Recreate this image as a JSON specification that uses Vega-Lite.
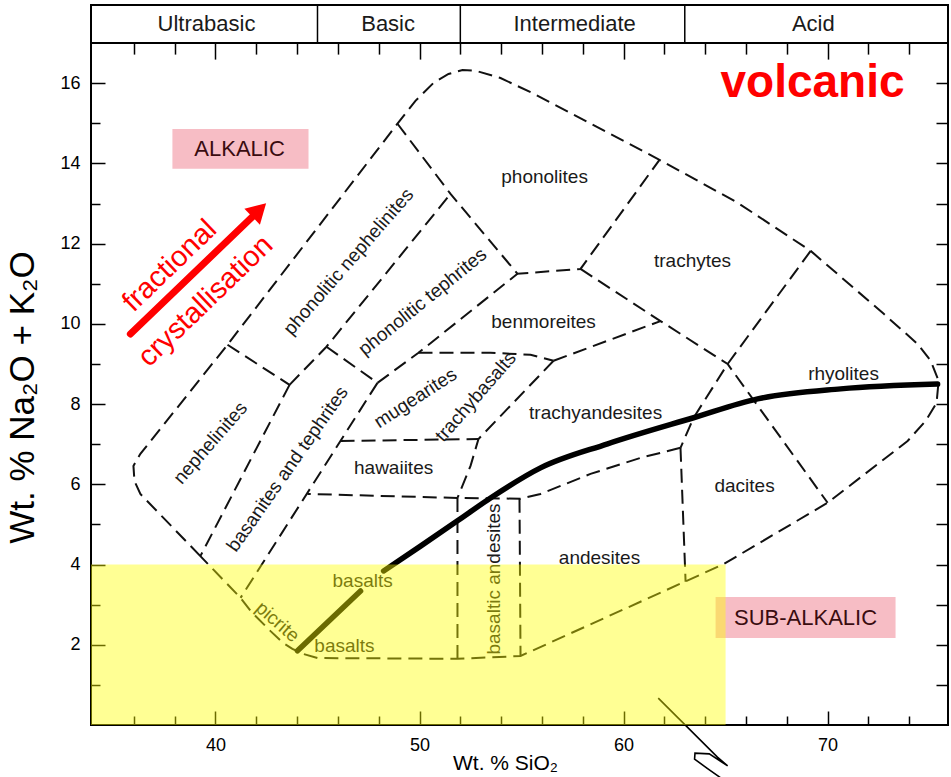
{
  "$schema": "https://vega.github.io/schema/vega-lite/v6.json",
  "width": 857,
  "height": 720,
  "padding": {"left": 5, "top": 4, "right": 0, "bottom": 0},
  "background": "white",
  "config": {
    "view": {"stroke": "black", "strokeWidth": 2},
    "font": "Liberation Sans",
    "axis": {"grid": false, "domain": false, "tickColor": "black", "tickWidth": 1.5, "labelColor": "black", "titleColor": "black", "labelFont": "Liberation Sans", "titleFont": "Liberation Sans", "titleFontWeight": "normal"}
  },
  "datasets": {
    "bounds": [
      {"seg": "env", "i": 0, "x": 39.26, "y": 4.21},
      {"seg": "env", "i": 1, "x": 36.32, "y": 5.76},
      {"seg": "env", "i": 2, "x": 36.03, "y": 6.08},
      {"seg": "env", "i": 3, "x": 35.98, "y": 6.46},
      {"seg": "env", "i": 4, "x": 36.32, "y": 6.76},
      {"seg": "env", "i": 5, "x": 40.59, "y": 9.48},
      {"seg": "env", "i": 6, "x": 48.92, "y": 14.99},
      {"seg": "env", "i": 7, "x": 49.8, "y": 15.56},
      {"seg": "env", "i": 8, "x": 50.69, "y": 16.01},
      {"seg": "env", "i": 9, "x": 51.42, "y": 16.23},
      {"seg": "env", "i": 10, "x": 52.11, "y": 16.33},
      {"seg": "env", "i": 11, "x": 52.75, "y": 16.31},
      {"seg": "env", "i": 12, "x": 53.97, "y": 16.13},
      {"seg": "env", "i": 13, "x": 55.59, "y": 15.74},
      {"seg": "env", "i": 14, "x": 61.76, "y": 14.09},
      {"seg": "env", "i": 15, "x": 65.59, "y": 13.02},
      {"seg": "env", "i": 16, "x": 69.17, "y": 11.82},
      {"seg": "env", "i": 17, "x": 72.75, "y": 10.25},
      {"seg": "env", "i": 18, "x": 74.41, "y": 9.5},
      {"seg": "env", "i": 19, "x": 75.05, "y": 9.08},
      {"seg": "env", "i": 20, "x": 75.44, "y": 8.58},
      {"seg": "env", "i": 21, "x": 75.34, "y": 8.03},
      {"seg": "env", "i": 22, "x": 74.8, "y": 7.58},
      {"seg": "env", "i": 23, "x": 73.92, "y": 7.08},
      {"seg": "env", "i": 24, "x": 70.0, "y": 5.54},
      {"seg": "env", "i": 25, "x": 64.9, "y": 4.01},
      {"seg": "env", "i": 26, "x": 54.95, "y": 1.72},
      {"seg": "env", "i": 27, "x": 51.86, "y": 1.65},
      {"seg": "env", "i": 28, "x": 45.0, "y": 1.67},
      {"seg": "env", "i": 29, "x": 44.31, "y": 1.77},
      {"seg": "env", "i": 30, "x": 43.77, "y": 1.9},
      {"seg": "env", "i": 31, "x": 43.33, "y": 2.04},
      {"seg": "env", "i": 32, "x": 42.7, "y": 2.34},
      {"seg": "env", "i": 33, "x": 41.76, "y": 2.82},
      {"seg": "env", "i": 34, "x": 41.23, "y": 3.17},
      {"seg": "env", "i": 35, "x": 39.26, "y": 4.21},
      {"seg": "s2", "i": 0, "x": 40.59, "y": 9.48},
      {"seg": "s2", "i": 1, "x": 43.63, "y": 8.48},
      {"seg": "s3", "i": 0, "x": 43.63, "y": 8.48},
      {"seg": "s3", "i": 1, "x": 39.26, "y": 4.21},
      {"seg": "s4", "i": 0, "x": 43.63, "y": 8.48},
      {"seg": "s4", "i": 1, "x": 45.44, "y": 9.43},
      {"seg": "s4", "i": 2, "x": 51.52, "y": 13.24},
      {"seg": "s5", "i": 0, "x": 48.92, "y": 14.99},
      {"seg": "s5", "i": 1, "x": 51.52, "y": 13.24},
      {"seg": "s5", "i": 2, "x": 54.8, "y": 11.25},
      {"seg": "s5", "i": 3, "x": 57.89, "y": 11.37},
      {"seg": "s5", "i": 4, "x": 61.76, "y": 14.09},
      {"seg": "s6", "i": 0, "x": 45.44, "y": 9.43},
      {"seg": "s6", "i": 1, "x": 47.94, "y": 8.53},
      {"seg": "s7", "i": 0, "x": 47.94, "y": 8.53},
      {"seg": "s7", "i": 1, "x": 41.23, "y": 3.17},
      {"seg": "s8", "i": 0, "x": 47.94, "y": 8.53},
      {"seg": "s8", "i": 1, "x": 49.95, "y": 9.28},
      {"seg": "s8", "i": 2, "x": 54.8, "y": 11.25},
      {"seg": "s9", "i": 0, "x": 49.95, "y": 9.28},
      {"seg": "s9", "i": 1, "x": 53.48, "y": 9.28},
      {"seg": "s9", "i": 2, "x": 55.44, "y": 9.23},
      {"seg": "s9", "i": 3, "x": 56.57, "y": 9.08},
      {"seg": "s10", "i": 0, "x": 56.57, "y": 9.08},
      {"seg": "s10", "i": 1, "x": 61.81, "y": 10.07},
      {"seg": "s11", "i": 0, "x": 57.89, "y": 11.37},
      {"seg": "s11", "i": 1, "x": 61.81, "y": 10.07},
      {"seg": "s11", "i": 2, "x": 65.1, "y": 9.0},
      {"seg": "s11", "i": 3, "x": 70.0, "y": 5.54},
      {"seg": "s12", "i": 0, "x": 69.17, "y": 11.82},
      {"seg": "s12", "i": 1, "x": 65.1, "y": 9.0},
      {"seg": "s12", "i": 2, "x": 63.43, "y": 7.66},
      {"seg": "s12", "i": 3, "x": 62.79, "y": 6.91},
      {"seg": "s13", "i": 0, "x": 62.79, "y": 6.91},
      {"seg": "s13", "i": 1, "x": 63.04, "y": 3.57},
      {"seg": "s14", "i": 0, "x": 62.79, "y": 6.91},
      {"seg": "s14", "i": 1, "x": 60.83, "y": 6.66},
      {"seg": "s14", "i": 2, "x": 58.38, "y": 6.26},
      {"seg": "s14", "i": 3, "x": 55.93, "y": 5.76},
      {"seg": "s14", "i": 4, "x": 54.95, "y": 5.64},
      {"seg": "s14", "i": 5, "x": 51.86, "y": 5.66},
      {"seg": "s14", "i": 6, "x": 44.51, "y": 5.76},
      {"seg": "s15", "i": 0, "x": 46.13, "y": 7.08},
      {"seg": "s15", "i": 1, "x": 52.89, "y": 7.13},
      {"seg": "s16", "i": 0, "x": 56.57, "y": 9.08},
      {"seg": "s16", "i": 1, "x": 52.89, "y": 7.13},
      {"seg": "s16", "i": 2, "x": 52.5, "y": 6.46},
      {"seg": "s16", "i": 3, "x": 51.86, "y": 5.66},
      {"seg": "s17", "i": 0, "x": 51.86, "y": 5.66},
      {"seg": "s17", "i": 1, "x": 51.86, "y": 1.65},
      {"seg": "s18", "i": 0, "x": 54.9, "y": 5.64},
      {"seg": "s18", "i": 1, "x": 54.95, "y": 1.72}
    ],
    "divide": [
      {"part": "a", "i": 0, "x": 44.02, "y": 1.85},
      {"part": "a", "i": 1, "x": 47.11, "y": 3.34},
      {"part": "b", "i": 0, "x": 48.24, "y": 3.84},
      {"part": "b", "i": 1, "x": 50.05, "y": 4.46},
      {"part": "b", "i": 2, "x": 51.86, "y": 5.09},
      {"part": "b", "i": 3, "x": 53.48, "y": 5.66},
      {"part": "b", "i": 4, "x": 55.93, "y": 6.41},
      {"part": "b", "i": 5, "x": 59.22, "y": 7.01},
      {"part": "b", "i": 6, "x": 63.43, "y": 7.66},
      {"part": "b", "i": 7, "x": 66.57, "y": 8.13},
      {"part": "b", "i": 8, "x": 70.64, "y": 8.38},
      {"part": "b", "i": 9, "x": 75.39, "y": 8.5}
    ],
    "labels": [
      {"text": "phonolites", "x": 56.13, "y": 13.67},
      {"text": "trachytes", "x": 63.38, "y": 11.57},
      {"text": "benmoreites", "x": 56.08, "y": 10.05},
      {"text": "rhyolites", "x": 70.78, "y": 8.75},
      {"text": "trachyandesites", "x": 58.63, "y": 7.78},
      {"text": "hawaiites", "x": 48.73, "y": 6.41},
      {"text": "dacites", "x": 65.93, "y": 5.96},
      {"text": "andesites", "x": 58.82, "y": 4.16},
      {"text": "basalts", "x": 47.21, "y": 3.59},
      {"text": "basalts", "x": 46.32, "y": 1.97},
      {"text": "nephelinites", "x": 39.75, "y": 7.03},
      {"text": "basanites and tephrites", "x": 43.53, "y": 6.38},
      {"text": "phonolitic nephelinites", "x": 46.52, "y": 11.55},
      {"text": "phonolitic tephrites", "x": 50.15, "y": 10.55},
      {"text": "mugearites", "x": 49.8, "y": 8.15},
      {"text": "trachybasalts", "x": 52.75, "y": 8.18},
      {"text": "basaltic andesites", "x": 53.63, "y": 3.64},
      {"text": "picrite", "x": 43.04, "y": 2.57}
    ],
    "header": [
      {"name": "Ultrabasic", "x": 39.56},
      {"name": "Basic", "x": 48.46},
      {"name": "Intermediate", "x": 57.6},
      {"name": "Acid", "x": 69.3}
    ],
    "dividers": [{"x": 45}, {"x": 52}, {"x": 63}],
    "boxes": [
      {"name": "ALKALIC", "x1": 37.89, "x2": 44.56, "y1": 13.87, "y2": 14.86, "tx": 41.18, "ty": 14.36},
      {"name": "SUB-ALKALIC", "x1": 64.51, "x2": 73.33, "y1": 2.17, "y2": 3.19, "tx": 68.92, "ty": 2.68}
    ],
    "red": [
      {"text": "fractional", "x": 37.75, "y": 11.45},
      {"text": "crystallisation", "x": 39.51, "y": 10.57}
    ],
    "arrow": [
      {"i": 0, "x": 35.83, "y": 9.75},
      {"i": 1, "x": 41.81, "y": 12.67}
    ],
    "head": [{"x": 42.14, "y": 12.84}],
    "squiggle": [
      {"i": 0, "x": 61.7, "y": 0.67},
      {"i": 1, "x": 64.6, "y": -0.8},
      {"i": 2, "x": 65.1, "y": -1.02},
      {"i": 3, "x": 64.2, "y": -0.72},
      {"i": 4, "x": 63.5, "y": -0.7},
      {"i": 5, "x": 63.48, "y": -0.85},
      {"i": 6, "x": 64.1, "y": -1.08},
      {"i": 7, "x": 64.85, "y": -1.35}
    ],
    "yellow": [{"x1": 33.9, "x2": 65.0, "y1": 0, "y2": 4.0}]
  },
  "resolve": {"axis": {"x": "independent", "y": "independent"}},
  "layer": [
    {
      "data": {"name": "bounds"},
      "mark": {"type": "line", "strokeDash": [14, 7], "strokeWidth": 2, "color": "#111111"},
      "encoding": {
        "x": {"field": "x", "type": "quantitative", "scale": {"domain": [33.9, 75.9], "nice": false, "zero": false},
          "axis": {"orient": "bottom", "values": [36, 38, 40, 42, 44, 46, 48, 50, 52, 54, 56, 58, 60, 62, 64, 66, 68, 70, 72, 74],
            "labelExpr": "datum.value % 10 === 0 ? datum.label : ''",
            "tickSize": {"condition": {"test": "datum.value % 10 === 0", "value": -14}, "value": -9},
            "labelFontSize": 18, "labelPadding": 25, "title": "Wt. % SiO₂", "titleFontSize": 21, "titleX": 414, "titleY": 27}},
        "y": {"field": "y", "type": "quantitative", "scale": {"domain": [0, 17.95], "nice": false, "zero": false},
          "axis": {"orient": "left", "values": [1, 2, 3, 4, 5, 6, 7, 8, 9, 10, 11, 12, 13, 14, 15, 16],
            "labelExpr": "datum.value % 2 === 0 ? datum.label : ''",
            "tickSize": {"condition": {"test": "datum.value % 2 === 0", "value": -14}, "value": -9},
            "labelFontSize": 18, "labelPadding": 25, "title": "Wt. % Na₂O + K₂O", "titleFontSize": 35, "titlePadding": 19, "titleY": 392}},
        "detail": {"field": "seg"},
        "order": {"field": "i"}
      }
    },
    {
      "data": {"name": "divide"},
      "mark": {"type": "line", "strokeWidth": 5.5, "color": "black", "strokeCap": "round", "interpolate": "monotone"},
      "encoding": {
        "x": {"field": "x", "type": "quantitative",
          "axis": {"orient": "top", "offset": -38.1, "values": [36, 38, 40, 42, 44, 46, 48, 50, 52, 54, 56, 58, 60, 62, 64, 66, 68, 70, 72, 74],
            "labels": false, "title": null,
            "tickSize": {"condition": {"test": "datum.value % 10 === 0", "value": -16}, "value": -11}}},
        "y": {"field": "y", "type": "quantitative",
          "axis": {"orient": "right", "values": [1, 2, 3, 4, 5, 6, 7, 8, 9, 10, 11, 12, 13, 14, 15, 16], "labels": false, "title": null, "tickSize": -12}},
        "detail": {"field": "part"},
        "order": {"field": "i"}
      }
    },
    {
      "data": {"values": [{"level": 17}]},
      "mark": {"type": "rule", "color": "black", "strokeWidth": 2},
      "encoding": {"y": {"field": "level", "type": "quantitative", "axis": null}}
    },
    {
      "data": {"name": "dividers"},
      "mark": {"type": "rule", "color": "black", "strokeWidth": 1.5},
      "encoding": {
        "x": {"field": "x", "type": "quantitative", "axis": null},
        "y": {"datum": 17, "type": "quantitative", "axis": null},
        "y2": {"datum": 17.95}
      }
    },
    {
      "data": {"name": "header"},
      "mark": {"type": "text", "fontSize": 22, "color": "#1a1a1a", "baseline": "middle", "align": "center"},
      "encoding": {
        "x": {"field": "x", "type": "quantitative", "axis": null},
        "y": {"datum": 17.47, "type": "quantitative", "axis": null},
        "text": {"field": "name"}
      }
    },
    {
      "data": {"name": "boxes"},
      "mark": {"type": "rect", "color": "#f07c8c", "opacity": 0.5},
      "encoding": {
        "x": {"field": "x1", "type": "quantitative", "axis": null},
        "x2": {"field": "x2"},
        "y": {"field": "y1", "type": "quantitative", "axis": null},
        "y2": {"field": "y2"}
      }
    },
    {
      "data": {"name": "boxes"},
      "mark": {"type": "text", "fontSize": 22, "color": "#3a0c10", "baseline": "middle", "align": "center"},
      "encoding": {
        "x": {"field": "tx", "type": "quantitative", "axis": null},
        "y": {"field": "ty", "type": "quantitative", "axis": null},
        "text": {"field": "name"}
      }
    },
    {
      "data": {"name": "labels"},
      "transform": [{"filter": "indexof(['phonolites','trachytes','benmoreites','rhyolites','trachyandesites','hawaiites','dacites','andesites','basalts'], datum.text) >= 0"}],
      "mark": {"type": "text", "fontSize": 19, "color": "#1a1a1a", "baseline": "middle", "align": "center"},
      "encoding": {
        "x": {"field": "x", "type": "quantitative", "axis": null},
        "y": {"field": "y", "type": "quantitative", "axis": null},
        "text": {"field": "text"}
      }
    },
    {
      "data": {"name": "labels"},
      "transform": [{"filter": "indexof(['nephelinites','phonolitic nephelinites','trachybasalts'], datum.text) >= 0"}],
      "mark": {"type": "text", "fontSize": 19, "color": "#1a1a1a", "baseline": "middle", "align": "center", "angle": -49},
      "encoding": {
        "x": {"field": "x", "type": "quantitative", "axis": null},
        "y": {"field": "y", "type": "quantitative", "axis": null},
        "text": {"field": "text"}
      }
    },
    {
      "data": {"name": "labels"},
      "transform": [{"filter": "datum.text === 'basanites and tephrites'"}],
      "mark": {"type": "text", "fontSize": 19, "color": "#1a1a1a", "baseline": "middle", "align": "center", "angle": -55},
      "encoding": {
        "x": {"field": "x", "type": "quantitative", "axis": null},
        "y": {"field": "y", "type": "quantitative", "axis": null},
        "text": {"field": "text"}
      }
    },
    {
      "data": {"name": "labels"},
      "transform": [{"filter": "datum.text === 'phonolitic tephrites'"}],
      "mark": {"type": "text", "fontSize": 19, "color": "#1a1a1a", "baseline": "middle", "align": "center", "angle": -39},
      "encoding": {
        "x": {"field": "x", "type": "quantitative", "axis": null},
        "y": {"field": "y", "type": "quantitative", "axis": null},
        "text": {"field": "text"}
      }
    },
    {
      "data": {"name": "labels"},
      "transform": [{"filter": "datum.text === 'mugearites'"}],
      "mark": {"type": "text", "fontSize": 19, "color": "#1a1a1a", "baseline": "middle", "align": "center", "angle": -33},
      "encoding": {
        "x": {"field": "x", "type": "quantitative", "axis": null},
        "y": {"field": "y", "type": "quantitative", "axis": null},
        "text": {"field": "text"}
      }
    },
    {
      "data": {"name": "labels"},
      "transform": [{"filter": "datum.text === 'basaltic andesites'"}],
      "mark": {"type": "text", "fontSize": 19, "color": "#1a1a1a", "baseline": "middle", "align": "center", "angle": -90},
      "encoding": {
        "x": {"field": "x", "type": "quantitative", "axis": null},
        "y": {"field": "y", "type": "quantitative", "axis": null},
        "text": {"field": "text"}
      }
    },
    {
      "data": {"name": "labels"},
      "transform": [{"filter": "datum.text === 'picrite'"}],
      "mark": {"type": "text", "fontSize": 19, "color": "#1a1a1a", "baseline": "middle", "align": "center", "angle": 41},
      "encoding": {
        "x": {"field": "x", "type": "quantitative", "axis": null},
        "y": {"field": "y", "type": "quantitative", "axis": null},
        "text": {"field": "text"}
      }
    },
    {
      "data": {"values": [{"text": "volcanic", "x": 69.26, "y": 16.01}]},
      "mark": {"type": "text", "fontSize": 46, "fontWeight": "bold", "color": "#ff0000", "baseline": "middle", "align": "center"},
      "encoding": {
        "x": {"field": "x", "type": "quantitative", "axis": null},
        "y": {"field": "y", "type": "quantitative", "axis": null},
        "text": {"field": "text"}
      }
    },
    {
      "data": {"name": "red"},
      "mark": {"type": "text", "fontSize": 29, "color": "#ff0000", "baseline": "middle", "align": "center", "angle": -44},
      "encoding": {
        "x": {"field": "x", "type": "quantitative", "axis": null},
        "y": {"field": "y", "type": "quantitative", "axis": null},
        "text": {"field": "text"}
      }
    },
    {
      "data": {"name": "arrow"},
      "mark": {"type": "line", "strokeWidth": 7, "color": "#ff0000", "strokeCap": "round"},
      "encoding": {
        "x": {"field": "x", "type": "quantitative", "axis": null},
        "y": {"field": "y", "type": "quantitative", "axis": null},
        "order": {"field": "i"}
      }
    },
    {
      "data": {"name": "head"},
      "mark": {"type": "point", "shape": "triangle-up", "filled": true, "color": "#ff0000", "opacity": 1, "size": 500, "angle": 46},
      "encoding": {
        "x": {"field": "x", "type": "quantitative", "axis": null},
        "y": {"field": "y", "type": "quantitative", "axis": null}
      }
    },
    {
      "data": {"name": "squiggle"},
      "mark": {"type": "line", "strokeWidth": 1.6, "color": "black"},
      "encoding": {
        "x": {"field": "x", "type": "quantitative", "axis": null},
        "y": {"field": "y", "type": "quantitative", "axis": null},
        "order": {"field": "i"}
      }
    },
    {
      "data": {"name": "yellow"},
      "mark": {"type": "rect", "color": "#ffff00", "opacity": 0.42},
      "encoding": {
        "x": {"field": "x1", "type": "quantitative", "axis": null},
        "x2": {"field": "x2"},
        "y": {"field": "y1", "type": "quantitative", "axis": null},
        "y2": {"field": "y2"}
      }
    }
  ]
}
